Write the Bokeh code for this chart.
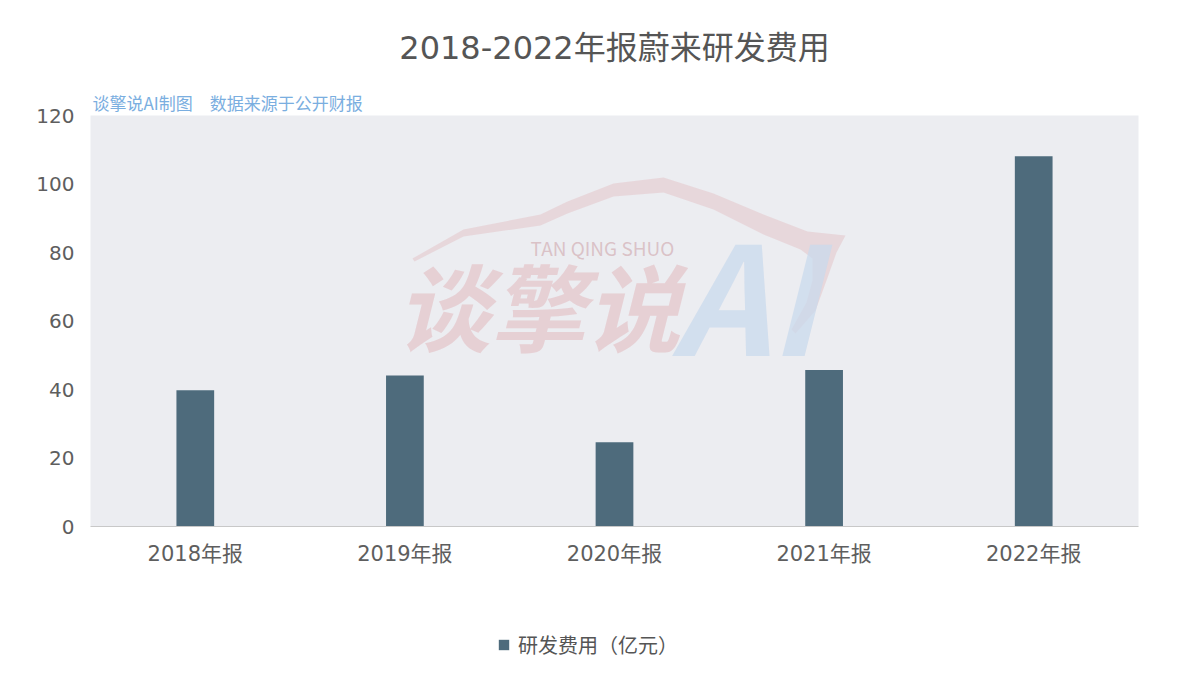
from bokeh.plotting import figure
from bokeh.layouts import column
from bokeh.models import (ColumnDataSource, FactorRange, Range1d, Label, Legend, LegendItem,
                          PolyAnnotation, FixedTicker, Title)
from bokeh.embed import file_html
from bokeh.resources import INLINE

# ---- data ----
categories = ["2018年报", "2019年报", "2020年报", "2021年报", "2022年报"]
rd_expense = [39.8, 44.1, 24.6, 45.7, 108.1]
series_name = "研发费用（亿元）"
y_ticks = [0, 20, 40, 60, 80, 100, 120]
title_text = "2018-2022年报蔚来研发费用"
source_text = "谈擎说AI制图\u3000数据来源于公开财报"

FONT = "DejaVu Sans, Noto Sans CJK SC"
CJK = "Noto Sans CJK SC"
BAR_COLOR = "#4e6b7c"

src = ColumnDataSource(dict(cat=categories, val=rd_expense))

p = figure(x_range=FactorRange(*categories, range_padding=0),
           y_range=Range1d(0, 120),
           width=1192, height=600,
           frame_width=1048, frame_height=411,
           min_border_left=90, min_border_right=54,
           min_border_top=115, min_border_bottom=74,
           output_backend="svg", toolbar_location=None)

p.background_fill_color = "#ecedf1"
p.border_fill_color = "white"
p.outline_line_color = None
p.xgrid.visible = False
p.ygrid.visible = False

# main title (outermost) and source note (nearest the frame)
p.title.text = title_text
p.title.align = "center"
p.title.text_font = FONT
p.title.text_font_size = "32px"
p.title.text_font_style = "normal"
p.title.text_color = "#555555"
p.title.standoff = 40
p.title.offset = -10

p.add_layout(Title(text=source_text, align="left", text_font=CJK, text_font_size="17px",
                   text_font_style="normal", text_color="#7aaee0", standoff=2,
                   offset=2), "above")

# watermark car outline (decoration, frame-relative screen units)
outer = [(412, 258), (463, 229), (540, 214), (567, 201), (613, 183), (663, 177),
         (713, 193), (763, 214), (807, 231), (845, 235), (836, 252), (826, 280),
         (815, 310), (795, 333)]
inner = [(791, 329), (806, 302), (812, 280), (812, 258), (800, 249), (763, 234),
         (713, 209), (663, 192), (613, 196), (567, 213), (540, 225), (463, 236),
         (414, 261)]
pts = outer + inner
car = PolyAnnotation(xs=[x - 90 for x, _ in pts], ys=[526 - y for _, y in pts],
                     xs_units="screen", ys_units="screen",
                     fill_color="#e3bcc2", fill_alpha=0.45, line_color=None, level="underlay")
p.add_layout(car)

p.add_layout(Label(x=305, y=223, x_units="screen", y_units="screen", text="谈擎说",
                   text_font=CJK, text_font_size="95px", text_font_style="bold italic",
                   text_color="#e3bcc2", text_alpha=0.6, text_baseline="middle",
                   text_align="left", level="underlay"))
p.add_layout(Label(x=655, y=236, x_units="screen", y_units="screen", text="AI",
                   text_font=CJK, text_font_size="150px", text_font_style="bold italic",
                   text_color="#c9d9ec", text_alpha=0.75, text_baseline="middle",
                   text_align="center", level="underlay"))
p.add_layout(Label(x=512, y=279, x_units="screen", y_units="screen", text="TAN QING SHUO",
                   text_font=CJK, text_font_size="19px",
                   text_color="#d6b7bc", text_alpha=0.8, text_baseline="middle",
                   text_align="center", level="underlay"))

p.vbar(x="cat", top="val", width=0.18, source=src, fill_color=BAR_COLOR, line_color=None)

# axes
p.yaxis.ticker = FixedTicker(ticks=y_ticks)
p.yaxis.axis_line_color = None
p.yaxis.major_tick_line_color = None
p.yaxis.minor_tick_line_color = None
p.yaxis.major_label_text_font = FONT
p.yaxis.major_label_text_font_size = "20px"
p.yaxis.major_label_text_color = "#5e5e5e"
p.yaxis.major_label_standoff = 10

p.xaxis.axis_line_color = "#c8c8c8"
p.xaxis.axis_line_width = 1
p.xaxis.major_tick_line_color = None
p.xaxis.minor_tick_line_color = None
p.xaxis.major_label_text_font = FONT
p.xaxis.major_label_text_font_size = "21px"
p.xaxis.major_label_text_color = "#5e5e5e"
p.xaxis.major_label_standoff = 9

# legend strip below the chart (same series, drawn with zero width so only the key shows)
lp = figure(width=1192, height=67, x_range=FactorRange(*categories, range_padding=0),
            y_range=Range1d(-2, -1),
            min_border_left=0, min_border_right=0, min_border_top=0, min_border_bottom=0,
            output_backend="svg", toolbar_location=None)
lp.axis.visible = False
lp.grid.visible = False
lp.outline_line_color = None
lp.background_fill_color = "white"
lp.border_fill_color = "white"
lr = lp.vbar(x="cat", top="val", width=0, source=src, fill_color=BAR_COLOR,
             line_color=None)

legend = Legend(items=[LegendItem(label=series_name, renderers=[lr], index=0)],
                location=(407, 8), orientation="horizontal",
                label_text_font=CJK, label_text_font_size="20px",
                label_text_color="#555555", glyph_width=13, glyph_height=13,
                label_standoff=8, padding=0, margin=0, border_line_color=None,
                background_fill_alpha=0)
lp.add_layout(legend, "center")

layout = column(p, lp, spacing=0)
open("out.html", "w").write(file_html(layout, INLINE))
